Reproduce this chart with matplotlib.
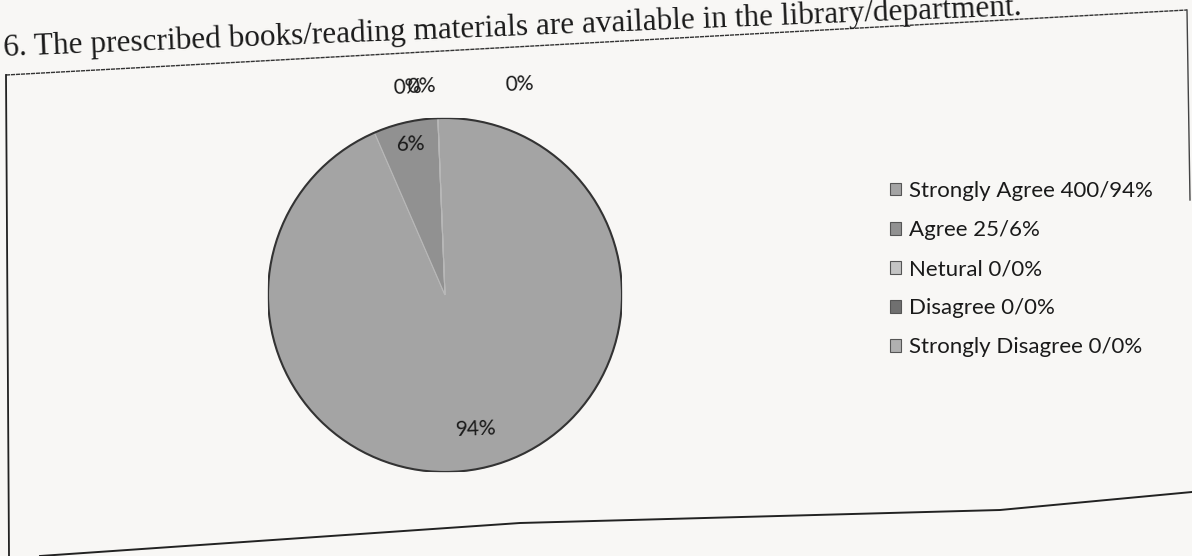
import numpy as np
import matplotlib
matplotlib.use("Agg")
from matplotlib import pyplot as plt

# survey answers for question 6
categories = ["Strongly Agree", "Agree", "Netural", "Disagree", "Strongly Disagree"]
counts = [400, 25, 0, 0, 0]
pct_labels = ["94%", "6%", "0%", "0%", "0%"]
legend_pcts = ["94%", "6%", "0%", "0%", "0%"]
title = "6. The prescribed books/reading materials are available in the library/department."

W, H = 1192, 556
tilt = 2.3  # the page was scanned a bit crooked

fig = plt.figure(figsize=(W / 100, H / 100), dpi=100)
fig.patch.set_facecolor("#f8f7f5")

# ---------- page layer in pixel coordinates (frame + question) ----------
bg = fig.add_axes([0, 0, 1, 1])
bg.set_xlim(0, W)
bg.set_ylim(H, 0)
bg.axis("off")

# the scan cuts the top of the last word, as in the original page
bg.text(4, 56, title, fontsize=22.5, family="Liberation Serif", color="#1a1a1a",
        rotation=tilt, rotation_mode="anchor", va="baseline", ha="left")

bg.plot([6, 1187], [75, 10], color="#333333", lw=1.0, ls=(0, (3, 0.6)))
bg.plot([6, 9], [75, 556], color="#222222", lw=1.3)
bg.plot([1187, 1190], [10, 200], color="#444444", lw=1.0)
bg.plot([40, 520, 1000, 1192], [556, 523, 510, 492], color="#222222", lw=1.4)

# ---------- pie ----------
cx, cy, r = 445, 295, 177
pie_ax = fig.add_axes([(cx - r) / W, (H - cy - r) / H, 2 * r / W, 2 * r / H])
colors = ["#a4a4a4", "#919191", "#c4c4c4", "#707070", "#b0b0b0"]
wedges, _ = pie_ax.pie(counts, colors=colors, startangle=90 + tilt, counterclock=False,
                       radius=1.0, wedgeprops=dict(edgecolor="#b8b8b8", linewidth=0.8))
pie_ax.add_patch(plt.Circle((0, 0), 1.0, fill=False, edgecolor="#333333", lw=1.5))
pie_ax.set_xlim(-1, 1)
pie_ax.set_ylim(-1, 1)
pie_ax.set_aspect("equal")
pie_ax.axis("off")

# data labels: inside for real slices, above the top for the empty ones
zero_spots = [(-0.21, 1.17), (-0.13, 1.18), (0.42, 1.19)]
k = 0
for w, lab, n in zip(wedges, pct_labels, counts):
    if n > 0:
        mid = np.deg2rad((w.theta1 + w.theta2) / 2)
        dist = 0.78 if n > 100 else 0.87
        x, y = dist * np.cos(mid), dist * np.sin(mid)
    else:
        x, y = zero_spots[k]
        k += 1
    pie_ax.text(x, y, lab, ha="center", va="center", fontsize=15, family="Lato",
                color="#1a1a1a", rotation=tilt, clip_on=False)

# ---------- legend ----------
leg_labels = [f"{c} {n}/{p}" for c, n, p in zip(categories, counts, legend_pcts)]
leg = fig.legend(wedges, leg_labels, loc="upper left",
                 bbox_to_anchor=(870 / W, 1 - 161 / H), frameon=False,
                 prop=dict(family="Lato", size=16), handlelength=0.5,
                 handleheight=0.5, handletextpad=0.35, labelspacing=0.86)
for t in leg.get_texts():
    t.set_color("#1a1a1a")
for h in leg.legend_handles:
    h.set_edgecolor("#555555")

plt.savefig("out.png", dpi=100, facecolor=fig.get_facecolor())
